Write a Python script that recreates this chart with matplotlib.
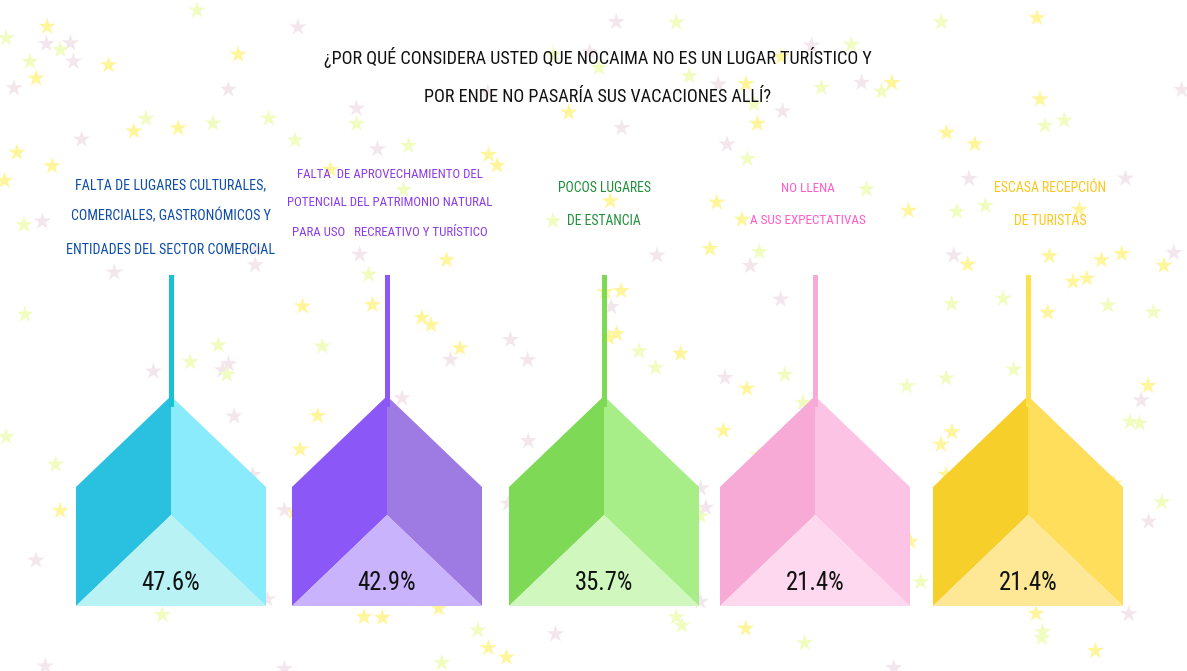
import matplotlib
matplotlib.use("Agg")
import matplotlib.pyplot as plt
from matplotlib.patches import Polygon, Rectangle
from matplotlib.font_manager import fontManager, FontProperties
import numpy as np

# ---- data ----
title_lines = ["¿Por qué considera usted que Nocaima no es un lugar turístico y",
               "por ende no pasaría sus vacaciones allí?"]
categories = [
    ["Falta de lugares culturales,", "comerciales, gastronómicos y", "entidades del sector comercial"],
    ["Falta  de aprovechamiento del", "potencial del patrimonio natural", "para uso   recreativo y turístico"],
    ["Pocos lugares", "de estancia"],
    ["No llena", "a sus expectativas"],
    ["Escasa recepción", "de turistas"],
]
values = [47.6, 42.9, 35.7, 21.4, 21.4]

# ---- styles / layout ----
centers = [171, 387, 604, 815, 1028]
label_x = [171, 390, 604, 808, 1050]
label_y = [[185, 216, 250], [174, 203, 232], [188, 221], [188, 221], [188, 221]]
label_w = [209, 206, 93, 116, 112]
label_colors = ["#0D4CA8", "#8C3BE8", "#1F8F3A", "#FF5BC8", "#FFC61A"]
dark = ["#29C1DF", "#8B57F7", "#7ED957", "#F7AAD6", "#F7CF2B"]
light = ["#8AEBFD", "#9E7AE3", "#A8EE88", "#FCC3E4", "#FEDE5A"]
lightest = ["#B8F2F5", "#C9B3FC", "#CFF7BE", "#FDD8EE", "#FEE795"]
stick = ["#18C3CF", "#8B57F7", "#7ED957", "#F7AAD6", "#FFE04D"]

W, H = 1187, 671
half = 95
apex_y, eave_y, base_y, inner_y = 396, 487, 606, 515
stick_top, stick_bot = 275, 407


def pick_font(prefs):
    files = [f.fname for f in fontManager.ttflist]
    for p in prefs:
        for fn in files:
            if fn.lower().replace("_", "").replace(" ", "").endswith(p):
                return FontProperties(fname=fn)
    for fn in files:
        low = fn.lower()
        if ("condensed" in low or "narrow" in low) and "bold" not in low and "italic" not in low:
            return FontProperties(fname=fn)
    return FontProperties(family="DejaVu Sans")


FP = pick_font(["notosans-extracondensed.ttf", "notosans-condensed.ttf",
                "robotocondensed-regular.ttf", "liberationsansnarrow-regular.ttf",
                "dejavusanscondensed.ttf", "opensanscondensed-regular.ttf"])
FPB = pick_font(["notosans-extracondensedsemibold.ttf", "notosans-extracondensedmedium.ttf",
                 "notosans-extracondensed.ttf", "notosans-condensedmedium.ttf",
                 "notosans-condensed.ttf", "robotocondensed-regular.ttf",
                 "dejavusanscondensed.ttf"])

fig = plt.figure(figsize=(W / 100, H / 100), dpi=100)
ax = fig.add_axes([0, 0, 1, 1])
ax.set_xlim(0, W)
ax.set_ylim(H, 0)
ax.axis("off")
renderer = fig.canvas.get_renderer()


def fitted_lines(lines, x, ys, target_w, color, fp, z=5):
    texts = [ax.text(x, y, s.upper(), ha="center", va="center", fontsize=10,
                     fontproperties=fp, color=color, zorder=z) for s, y in zip(lines, ys)]
    wmax = max(t.get_window_extent(renderer).width for t in texts)
    size = 10 * target_w / wmax
    for t in texts:
        t.set_fontsize(size)
    return texts


# decorative background stars (fixed pattern)
rng = np.random.default_rng(7)
n = 230
sx = rng.uniform(0, W, n)
sy = rng.uniform(0, H, n)
star_cols = np.array(["#F1FCC0", "#FFF59A", "#F3E6EC"])[rng.integers(0, 3, n)]
ax.scatter(sx, sy, s=170, marker="*", c=star_cols, linewidths=0, zorder=0)

for i, cx in enumerate(centers):
    l, r = cx - half, cx + half
    ax.add_patch(Polygon([(l, eave_y), (cx, apex_y), (cx, inner_y), (l, base_y)],
                         closed=True, facecolor=dark[i], edgecolor="none", zorder=2))
    ax.add_patch(Polygon([(cx, apex_y), (r, eave_y), (r, base_y), (cx, inner_y)],
                         closed=True, facecolor=light[i], edgecolor="none", zorder=2))
    ax.add_patch(Polygon([(l, base_y), (cx, inner_y), (r, base_y)],
                         closed=True, facecolor=lightest[i], edgecolor="none", zorder=3))
    ax.add_patch(Rectangle((cx - 2.5, stick_top), 5, stick_bot - stick_top,
                           facecolor=stick[i], edgecolor="none", zorder=4))
    fitted_lines([f"{values[i]:.1f}%"], cx, [583], 58, "#111111", FP)
    fitted_lines(categories[i], label_x[i], label_y[i], label_w[i], label_colors[i], FP)

fitted_lines(title_lines, 598, [58, 97], 547, "#111111", FPB)

fig.savefig("out.png", dpi=100)
